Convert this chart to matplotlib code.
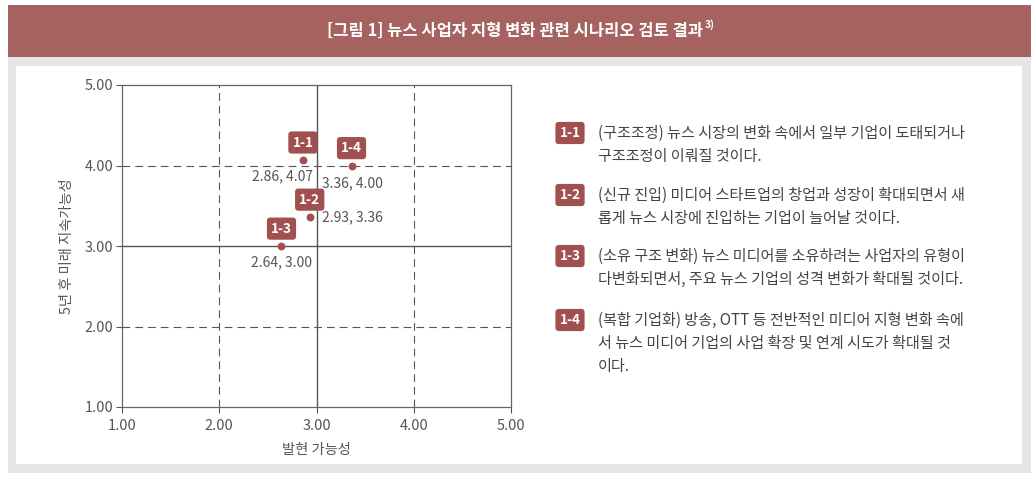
import matplotlib
matplotlib.use("Agg")
import matplotlib.pyplot as plt
from matplotlib.patches import Rectangle

plt.rcParams['font.family'] = ['Noto Sans CJK KR', 'DejaVu Sans']

# data
labels = ['1-1', '1-2', '1-3', '1-4']
x_vals = [2.86, 2.93, 2.64, 3.36]
y_vals = [4.07, 3.36, 3.00, 4.00]
ticks = [1.0, 2.0, 3.0, 4.0, 5.0]
descriptions = [
    ['(구조조정) 뉴스 시장의 변화 속에서 일부 기업이 도태되거나',
     '구조조정이 이뤄질 것이다.'],
    ['(신규 진입) 미디어 스타트업의 창업과 성장이 확대되면서 새',
     '롭게 뉴스 시장에 진입하는 기업이 늘어날 것이다.'],
    ['(소유 구조 변화) 뉴스 미디어를 소유하려는 사업자의 유형이',
     '다변화되면서, 주요 뉴스 기업의 성격 변화가 확대될 것이다.'],
    ['(복합 기업화) 방송, OTT 등 전반적인 미디어 지형 변화 속에',
     '서 뉴스 미디어 기업의 사업 확장 및 연계 시도가 확대될 것',
     '이다.'],
]
title = '[그림 1] 뉴스 사업자 지형 변화 관련 시나리오 검토 결과'

BAND = '#a5625f'
MARK = '#a0504e'
FRAME = '#e6e6e8'
TEXT = '#555555'

W, H = 1031, 482
fig = plt.figure(figsize=(W / 100, H / 100), dpi=100)
fig.patch.set_facecolor('white')


def px(x0, y0, w, h):
    # pixel box (top-left origin) -> figure fraction
    return (x0 / W, 1 - (y0 + h) / H), w / W, h / H


# frame, inner panel and title band
for (x0, y0, w, h), col in [((8, 57, 1023, 416), FRAME),
                            ((16, 66, 1006, 398), 'white'),
                            ((8, 5, 1023, 52), BAND)]:
    xy, ww, hh = px(x0, y0, w, h)
    fig.patches.append(Rectangle(xy, ww, hh, transform=fig.transFigure,
                                 facecolor=col, edgecolor='none', zorder=-10))

t = fig.text(0.5, 1 - 31 / H, title, color='white', fontsize=11.9,
             fontweight='bold', ha='center', va='center')
fig.canvas.draw()
bb = t.get_window_extent()
fig.text((bb.x1 + 1) / W, 1 - 25 / H, '3)', color='white', fontsize=7.5,
         fontweight='bold', ha='left', va='center')

# scatter
ax = fig.add_axes([122 / W, 1 - 407 / H, 389 / W, 322 / H])
ax.set_zorder(5)
ax.patch.set_alpha(0)
ax.set_xlim(1, 5)
ax.set_ylim(1, 5)
ax.set_xticks(ticks)
ax.set_yticks(ticks)
ax.set_xticklabels(['%.2f' % v for v in ticks])
ax.set_yticklabels(['%.2f' % v for v in ticks])
ax.tick_params(colors=TEXT, labelsize=10.5, length=4, width=0.8)
ax.tick_params(axis='x', pad=5)
ax.tick_params(axis='y', pad=2)
for s in ax.spines.values():
    s.set_color('#666666')
    s.set_linewidth(0.9)

for v in [2.0, 4.0]:
    ax.axvline(v, color='#555555', lw=0.8, ls=(0, (7, 4.5)), zorder=1)
    ax.axhline(v, color='#555555', lw=0.8, ls=(0, (7, 4.5)), zorder=1)
ax.axvline(3.0, color='#555555', lw=1.0, zorder=1)
ax.axhline(3.0, color='#555555', lw=1.0, zorder=1)

ax.scatter(x_vals, y_vals, s=32, color=MARK, zorder=3, linewidths=0)

value_pos = {'1-1': ((-15, -12), 'center'),
             '1-2': ((9, 0), 'left'),
             '1-3': ((0, -12), 'center'),
             '1-4': ((1, -12.5), 'center')}
for lab, xv, yv in zip(labels, x_vals, y_vals):
    ax.annotate(lab, (xv, yv), xytext=(0, 12.5), textcoords='offset points',
                ha='center', va='center', color='white', fontsize=9.8,
                fontweight='bold', zorder=4,
                bbox=dict(boxstyle='round,pad=0.3,rounding_size=0.25',
                          fc=MARK, ec='none'))
    off, ha = value_pos[lab]
    ax.annotate('%.2f, %.2f' % (xv, yv), (xv, yv), xytext=off,
                textcoords='offset points', ha=ha, va='center',
                color=TEXT, fontsize=10, zorder=4)

ax.set_xlabel('발현 가능성', color=TEXT, fontsize=10.3, labelpad=7)
ax.set_ylabel('5년 후 미래 지속가능성', color=TEXT, fontsize=10.3, labelpad=8)

# legend descriptions on the right
block_top = [133, 195, 256, 320]
for lab, lines, y0 in zip(labels, descriptions, block_top):
    fig.text(570 / W, 1 - y0 / H, lab, color='white', fontsize=9.8,
             fontweight='bold', ha='center', va='center',
             bbox=dict(boxstyle='round,pad=0.3,rounding_size=0.25',
                       fc=MARK, ec='none'))
    for i, line in enumerate(lines):
        fig.text(598 / W, 1 - (y0 + i * 23.5) / H, line, color='#444444',
                 fontsize=10.9, ha='left', va='center')

fig.savefig('out.png', dpi=100)
